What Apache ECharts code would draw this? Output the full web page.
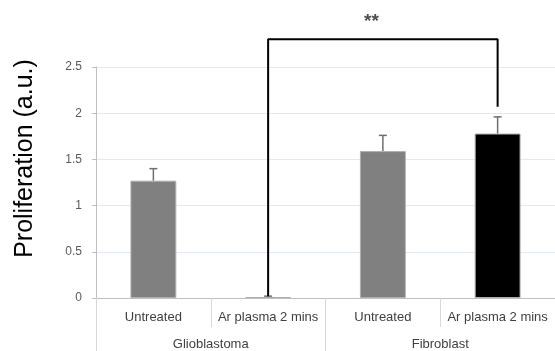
<!DOCTYPE html>
<html>
<head>
<meta charset="utf-8">
<script src="https://cdn.jsdelivr.net/npm/echarts@6/dist/echarts.min.js"></script>
<style>html,body{margin:0;padding:0;background:#fff;}#c{width:555px;height:351px;}</style>
</head>
<body>
<div id="c"></div>
<script>
var categories = ['Untreated', 'Ar plasma 2 mins', 'Untreated', 'Ar plasma 2 mins'];
var groups = ['Glioblastoma', 'Fibroblast'];
var values = [1.27, 0.01, 1.59, 1.78];
var errors = [0.13, 0.01, 0.17, 0.18];
var barColors = ['#808080', '#808080', '#808080', '#000000'];
var yTicks = [0, 0.5, 1, 1.5, 2, 2.5];
var bracketX = [1, 1, 3, 3];
var bracketY = [0.02, 2.80, 2.80, 2.07];
var starX = 1.9;
var starY = 2.99;
var starText = '**';
var yTitle = 'Proliferation (a.u.)';

var fontFam = 'Liberation Sans, Arial, sans-serif';
var chart = echarts.init(document.getElementById('c'), null, {renderer: 'canvas'});

var bracketData = bracketX.map(function (x, i) { return [x, bracketY[i]]; });

chart.setOption({
  animation: false,
  grid: {left: 96, right: 0, top: 67, bottom: 53, containLabel: false},
  xAxis: [
    {
      type: 'category', data: categories, position: 'bottom',
      axisLine: {show: true, onZero: false, lineStyle: {color: '#bfbfbf', width: 1}},
      axisTick: {show: true, length: 29, alignWithLabel: false, lineStyle: {color: '#d9d9d9'}},
      axisLabel: {margin: 13, color: '#404040', fontSize: 13, fontFamily: fontFam, interval: 0},
      splitLine: {show: false}
    },
    {
      type: 'category', data: groups, position: 'bottom', offset: 0,
      axisLine: {show: false, onZero: false},
      axisTick: {show: true, length: 53, lineStyle: {color: '#d9d9d9'}},
      axisLabel: {margin: 40, color: '#404040', fontSize: 13, fontFamily: fontFam, interval: 0},
      splitLine: {show: false}
    },
    {
      type: 'value', min: -0.5, max: 3.5, show: false,
      axisLine: {onZero: false}
    }
  ],
  yAxis: {
    type: 'value', min: yTicks[0], max: yTicks[yTicks.length - 1], interval: 0.5,
    name: yTitle, nameLocation: 'middle', nameGap: 58,
    nameTextStyle: {fontSize: 25, color: '#000', fontFamily: fontFam, padding: [0, 0, 0, 48]},
    axisLine: {show: true, onZero: false, lineStyle: {color: '#bfbfbf'}},
    axisTick: {show: true, length: 4, lineStyle: {color: '#bfbfbf'}},
    axisLabel: {margin: 14, color: '#595959', fontSize: 12, fontFamily: fontFam},
    splitLine: {show: true, lineStyle: {color: '#e3e9f1', width: 1}}
  },
  series: [
    {
      type: 'bar', xAxisIndex: 0, barWidth: '40%',
      data: values.map(function (v, i) {
        return {value: v, itemStyle: {color: barColors[i], borderColor: '#b0b0b0', borderWidth: 1}};
      }),
      z: 2
    },
    {
      type: 'custom', xAxisIndex: 0, z: 3,
      data: values.map(function (v, i) { return [i, v, errors[i]]; }),
      renderItem: function (params, api) {
        var x = api.value(0), v = api.value(1), e = api.value(2);
        var top = api.coord([x, v + e]);
        var base = api.coord([x, v]);
        var half = 4;
        return {
          type: 'group',
          children: [
            {type: 'line', shape: {x1: base[0], y1: base[1], x2: top[0], y2: top[1]}, style: {stroke: '#6e6e6e', lineWidth: 1.5}},
            {type: 'line', shape: {x1: top[0] - half, y1: top[1], x2: top[0] + half, y2: top[1]}, style: {stroke: '#6e6e6e', lineWidth: 1.5}}
          ]
        };
      }
    },
    {
      type: 'line', xAxisIndex: 2, data: bracketData, clip: false, symbol: 'none',
      lineStyle: {color: '#000', width: 2}, z: 5
    },
    {
      type: 'scatter', xAxisIndex: 2, data: [[starX, starY]], clip: false, symbolSize: 0,
      label: {show: true, position: 'inside', formatter: starText, color: '#222', fontSize: 19, fontWeight: 'bold', fontFamily: fontFam},
      z: 5
    }
  ]
});
</script>
</body>
</html>
